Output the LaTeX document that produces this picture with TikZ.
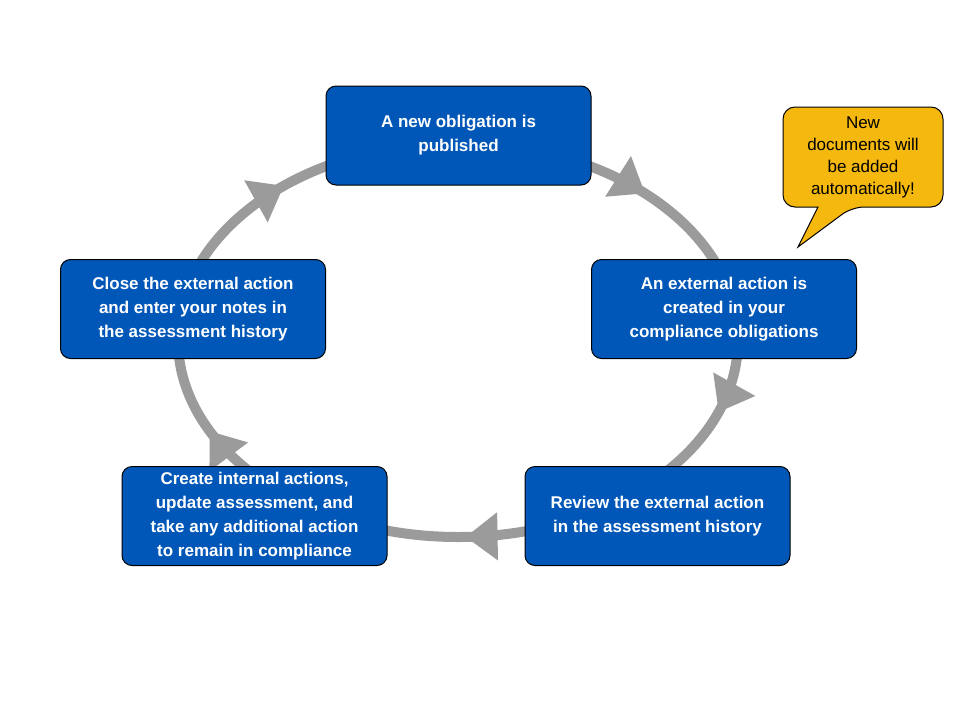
\documentclass[tikz,border=0pt]{standalone}
\usepackage{fontspec}
\setmainfont{Liberation Sans}
\usetikzlibrary{arrows.meta,decorations.markings}
\definecolor{boxblue}{HTML}{0057B8}
\definecolor{ringgray}{HTML}{9B9B9B}
\definecolor{noteyellow}{HTML}{F4B80F}
\begin{document}
\begin{tikzpicture}[x=1pt,y=-1pt,
  stepbox/.style={draw=black,line width=1pt,fill=boxblue,rounded corners=10pt,text=white,
    font=\fontsize{17}{24}\selectfont\bfseries,align=center,minimum width=265pt,minimum height=99pt,inner sep=2pt},
  ring/.style={draw=ringgray,line width=10pt}]
\useasboundingbox (0,0) rectangle (960,720);
\fill[white] (0,0) rectangle (960,720);
\draw[ring,postaction={decorate,decoration={markings,
   mark=at position 0.05 with {\arrow[ringgray]{Triangle[length=32pt,width=46pt]}},
   mark=at position 0.245 with {\arrow[ringgray]{Triangle[length=32pt,width=46pt]}},
   mark=at position 0.435 with {\arrow[ringgray]{Triangle[length=32pt,width=46pt]}},
   mark=at position 0.63 with {\arrow[ringgray]{Triangle[length=32pt,width=46pt]}},
   mark=at position 0.88 with {\arrow[ringgray]{Triangle[length=32pt,width=46pt]}}}}]
   (458,340) ellipse [x radius=280, y radius=197];
\node[stepbox] (top) at (458.5,135.5) {A new obligation is\\published};
\node[stepbox] (right) at (724,309) {An external action is\\created in your\\compliance obligations};
\node[stepbox] (br) at (657.5,516) {Review the external action\\in the assessment history};
\node[stepbox] (bl) at (254.5,516) {Create internal actions,\\update assessment, and\\take any additional action\\to remain in compliance};
\node[stepbox] (left) at (193,309) {Close the external action\\and enter your notes in\\the assessment history};
\draw[fill=noteyellow,draw=black,line width=1pt,rounded corners=12pt]
  (783,107) -- (943,107) -- (943,207) -- (852,207) [sharp corners] -- (798,247) -- (818,207) [rounded corners=12pt] -- (783,207) -- cycle;
\node[font=\fontsize{17}{22}\selectfont,align=center] (note) at (863,157) {New\\documents will\\be added\\automatically!};
\end{tikzpicture}
\end{document}
